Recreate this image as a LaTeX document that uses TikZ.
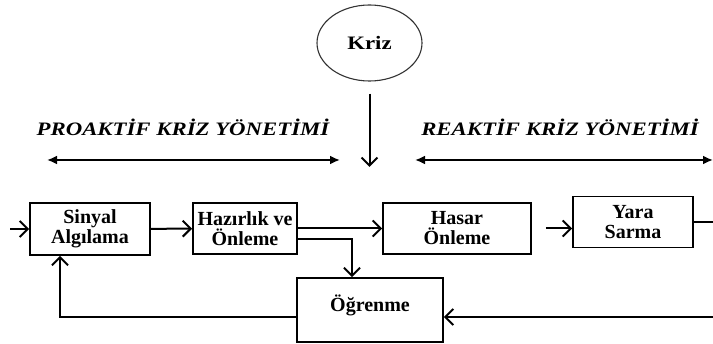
\documentclass[tikz,border=0pt]{standalone}
\usepackage{fontspec}
\setmainfont{Liberation Serif}
\newfontfamily\widefont[FakeStretch=1.2]{Liberation Serif}
\usetikzlibrary{shapes.geometric, arrows.meta, positioning}

\begin{document}
\begin{tikzpicture}[x=1pt, y=-1pt,
    stage/.style={draw, line width=1.8pt, align=center, inner sep=0pt, font=\fontsize{20}{20}\selectfont\bfseries},
    event/.style={draw=black!80, line width=1.1pt, ellipse, minimum width=105pt, minimum height=76pt, inner sep=0pt, font=\widefont\fontsize{19}{20}\selectfont\bfseries},
    phase/.style={font=\widefont\fontsize{19}{20}\selectfont\bfseries\itshape},
    flow/.style={-{Straight Barb[length=8pt, width=16pt]}, line width=2pt},
    span/.style={{Latex[length=10pt, width=9pt]}-{Latex[length=10pt, width=9pt]}, line width=2pt}
]
\useasboundingbox (0,0) rectangle (713,344);

\node[event] (kriz) at (369.5,43) {Kriz};
\node[phase] (proaktif) at (183,127) {PROAKTİF KRİZ YÖNETİMİ};
\node[phase] (reaktif) at (560,127) {REAKTİF KRİZ YÖNETİMİ};

\node[stage, minimum width=120pt, minimum height=52pt] (sinyal) at (90,229) {Sinyal\\Algılama};
\node[stage, minimum width=104pt, minimum height=51pt] (hazirlik) at (245,228.5) {Hazırlık ve\\Önleme};
\node[stage, minimum width=148pt, minimum height=51pt] (hasar) at (457,228.5) {Hasar\\Önleme};
\node[stage, minimum width=120pt, minimum height=51pt] (yara) at (633,222) {Yara\\Sarma};
\node[stage, minimum width=146pt, minimum height=64pt, text depth=14pt] (ogrenme) at (370,310) {Öğrenme};

% free ends
\coordinate (proL) at (47,160);
\coordinate (proR) at (340,160);
\coordinate (reL) at (415,160);
\coordinate (reR) at (713,160);
\coordinate (impact) at (369.5,167);
\coordinate (entry) at (10,229);
\coordinate (rim) at (713,317);

\draw[span] (proL) -- (proR);
\draw[span] (reL) -- (reR);
\draw[flow] ([yshift=-12pt]kriz.south) -- (impact);

\draw[flow] (entry) -- (sinyal.west);
\draw[flow] (sinyal) -- (hazirlik);
\draw[flow] (hazirlik.east) -- (hasar.west);
\draw[flow] ([yshift=-11pt]hazirlik.east) -| ([xshift=-18pt]ogrenme.north);
\draw[flow] ([xshift=14pt]hasar.east) -- (hasar.east -| yara.west);
\draw[line width=2pt] (yara.east) -- (yara.east -| rim);
\draw[flow] (rim) -- (rim -| ogrenme.east);
\draw[flow] (ogrenme.west |- rim) -| ([xshift=-30pt]sinyal.south);

\end{tikzpicture}
\end{document}
